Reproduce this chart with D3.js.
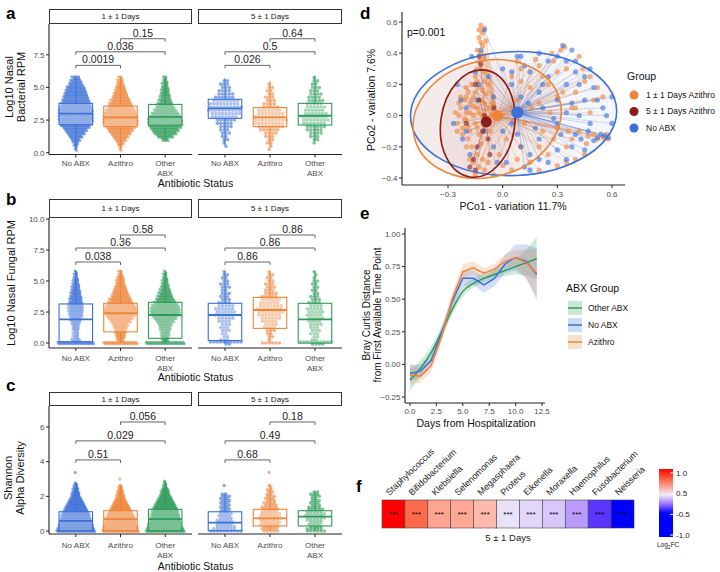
<!DOCTYPE html>
<html><head><meta charset="utf-8">
<script src="https://cdn.jsdelivr.net/npm/d3@7"></script>
<style>body{margin:0;background:#fff;} text{font-family:"Liberation Sans",Arial,Helvetica,sans-serif;}</style>
</head><body>
<script>
// ================= DATA =================
const groups = ["No ABX","Azithro","Other ABX"];
const groupTickLabels = [["No ABX"],["Azithro"],["Other","ABX"]];
const facets = ["1 ± 1 Days","5 ± 1 Days"];
const bracketPairs = [[0,1],[0,2],[1,2]];

// Panel a: Log10 nasal bacterial RPM. box = [min,q1,median,q3,max]
const bactBox = [
  [[0.3,2.15,3.0,3.78,5.9],[0.3,2.0,2.7,3.57,5.8],[1.0,2.1,2.75,3.7,5.8]],
  [[0.6,2.63,3.4,4.09,5.7],[0.4,2.0,2.7,3.45,5.5],[0.9,2.12,2.83,3.78,5.9]]
];
// swarm counts per 0.25 bin (value = index*0.25)
const bactBins = [
  [[0,2,3,5,8,12,16,20,25,28,30,30,30,30,28,26,24,22,20,18,16,12,10,7],
   [0,2,3,6,10,14,18,22,26,30,30,30,28,26,22,20,17,14,12,10,8,6,5,3],
   [0,0,0,0,6,14,20,24,28,30,30,28,24,20,16,13,11,9,8,7,6,5,4,3]],
  [[0,0,1,1,2,2,3,3,4,5,6,8,9,10,10,9,8,6,5,4,3,3,2,0],
   [0,1,1,2,2,3,4,6,8,9,10,9,8,7,5,4,3,3,2,2,2,1,0,0],
   [0,0,0,1,2,3,4,5,6,7,8,8,7,6,6,5,5,4,4,3,3,2,2,1]]
];
const bactP = [["0.0019","0.036","0.15"],["0.026","0.5","0.64"]];
const bactBracketV = [6.69,7.73,8.73];

// Panel b: Log10 nasal fungal RPM
const fungBox = [
  [[0,0.1,1.9,3.15,5.85],[0,0.9,2.4,3.2,5.85],[0,0.38,2.26,3.28,5.7]],
  [[0,0.2,2.26,3.2,5.8],[0,1.18,2.66,3.68,5.8],[0,0.0,1.9,3.2,5.8]]
];
const fungBins = [
  [[32,8,5,5,5,6,7,9,10,12,13,13,13,12,11,10,9,8,7,6,5,4,3,2],
   [30,6,8,9,10,12,14,18,22,26,28,28,26,22,19,16,14,12,10,8,7,6,4,3],
   [34,6,7,8,9,10,12,16,20,24,26,26,24,20,16,13,11,9,7,6,5,4,3,2]],
  [[12,3,2,2,3,3,3,4,5,6,6,6,5,4,3,3,3,2,3,3,2,2,2,1],
   [6,1,2,2,3,4,4,5,6,7,8,8,7,6,6,5,4,3,3,3,2,2,2,1],
   [14,2,2,3,3,3,4,4,5,5,5,5,4,4,3,3,2,2,2,2,2,1,1,1]]
];
const fungP = [["0.038","0.36","0.58"],["0.86","0.86","0.86"]];
const fungBracketV = [6.53,7.66,8.71];

// Panel c: Shannon alpha diversity
const shanBox = [
  [[0,0.02,0.58,1.11,2.75],[0,0.02,0.69,1.17,2.6],[0,0.02,0.69,1.25,2.9]],
  [[0,0.02,0.48,1.11,2.2],[0,0.29,0.73,1.25,2.7],[0,0.29,0.83,1.17,2.3]]
];
// counts per 0.125 bin
const shanBins = [
  [[34,32,30,30,28,27,26,25,24,22,20,18,16,14,12,10,8,7,6,5,4,3,2,0,0,0,0,1],
   [32,30,30,28,27,26,25,24,22,20,18,16,14,12,10,8,7,6,5,4,3,2,0,0,1],
   [34,32,30,29,28,27,26,25,24,23,22,20,18,16,14,12,10,8,7,6,4,3,2,1]],
  [[10,7,6,5,5,5,4,4,4,3,3,3,3,3,3,3,3,2,0,0,0,1],
   [5,5,5,6,6,6,7,6,6,5,5,5,4,4,3,3,3,2,2,2,1,1,0,0,0,0,0,1],
   [6,5,4,4,4,5,6,6,6,5,5,4,3,3,3,2,3,3,2]]
];
const shanP = [["0.51","0.029","0.056"],["0.68","0.49","0.18"]];
const shanBracketV = [4.1,5.2,6.29];

// Panel d: PCoA
const pcoaGroups = ["1 ± 1 Days Azithro","5 ± 1 Days Azithro","No ABX"];
const pcoaAzithro1 = [[-0.25,-0.05],[-0.24,0.0],[-0.23,0.05],[-0.22,-0.08],[-0.21,0.1],[-0.2,0.02],[-0.2,-0.03],[-0.19,0.15],[-0.18,0.07],[-0.18,-0.1],[-0.17,0.2],[-0.16,0.0],[-0.16,0.12],[-0.15,-0.05],[-0.15,0.25],[-0.14,0.05],[-0.13,0.18],[-0.13,-0.12],[-0.12,0.1],[-0.12,0.3],[-0.11,0.0],[-0.1,0.22],[-0.1,-0.07],[-0.09,0.14],[-0.08,0.05],[-0.22,-0.12],[-0.24,0.08],[-0.19,-0.15],[-0.17,-0.2],[-0.14,-0.25],[-0.16,-0.3],[-0.13,-0.33],[-0.11,-0.28],[-0.2,0.12],[-0.06,0.08],
  [-0.13,0.35],[-0.12,0.4],[-0.11,0.45],[-0.13,0.5],[-0.11,0.53],[-0.12,0.58],[-0.1,0.56],[-0.14,0.42],[-0.1,0.38],[-0.09,0.48],
  [0.05,0.25],[0.1,0.3],[0.2,0.32],[0.3,0.28],[0.32,0.42],[0.34,0.44],[0.25,0.2],[0.4,0.15],[0.45,0.22],[0.5,0.1],[0.38,0.05],[0.3,0.12],[0.15,0.18],[0.2,0.08],[0.12,-0.05],[0.22,-0.1],[0.3,-0.08],[0.42,-0.1],[0.5,-0.12],[0.55,-0.14],[0.58,-0.15],[0.46,-0.18],[0.35,-0.2],[0.25,-0.25],[0.15,-0.3],[0.3,-0.32],[0.4,-0.28],[0.05,-0.35],[-0.05,-0.38],[0.18,0.36],[0.08,0.1],[0.02,-0.15],[-0.02,-0.25],[0.1,-0.2],[0.48,0.02],[0.55,0.12],[0.28,0.35],[0.36,-0.1],[0.44,0.3],
  [-0.26,0.02],[-0.25,-0.1],[-0.23,0.12],[-0.21,-0.02],[-0.2,0.18],[-0.19,-0.07],[-0.18,0.02],[-0.17,0.1],[-0.16,0.06],[-0.15,0.15],[-0.14,-0.08],[-0.14,0.22],[-0.13,0.02],[-0.12,-0.18],[-0.11,0.16],[-0.1,0.08],[-0.09,-0.02],[-0.08,0.2],[-0.07,-0.1],[-0.06,0.0],[-0.12,0.47],[-0.11,0.36],[-0.13,0.55],[-0.14,0.3],[-0.1,0.28],[-0.2,-0.2],[-0.18,-0.28],[-0.15,-0.38],[-0.1,-0.35],[-0.08,-0.3],[0.0,-0.32],[0.08,-0.28],[0.2,-0.2],[0.28,-0.15],[0.38,-0.15],[0.47,-0.13],[0.52,-0.15],[0.57,-0.12],[0.45,-0.25],[0.35,-0.3],[0.2,-0.35],[0.1,0.22],[0.22,0.25],[0.35,0.3],[0.42,0.38],[0.48,0.25],[0.52,0.18],[0.4,0.05],[0.26,0.02],[0.16,0.05],[0.05,0.05],[0.33,0.15],[0.27,0.4],[0.08,0.35]];
const pcoaAzithro5 = [[-0.12,0.33],[-0.15,0.2],[-0.13,0.1],[-0.1,0.0],[-0.11,-0.1],[-0.14,-0.2],[-0.16,-0.28],[-0.18,-0.33],[-0.08,-0.15],[-0.05,0.05],[-0.2,-0.05],[-0.13,0.38],[-0.07,-0.25],[-0.15,-0.35]];
const pcoaNoABX = [[0.08,0.38],[0.2,0.4],[0.3,0.38],[0.4,0.35],[0.45,0.25],[0.5,0.18],[0.55,0.05],[0.48,-0.05],[0.52,-0.14],[0.56,-0.13],[0.58,-0.14],[0.5,-0.16],[0.43,-0.15],[0.38,-0.2],[0.35,0.2],[0.25,0.25],[0.15,0.28],[0.05,0.2],[0.1,0.12],[0.2,0.15],[0.3,0.1],[0.38,0.08],[0.42,0.0],[0.28,-0.02],[0.18,-0.08],[0.08,-0.12],[0.15,-0.25],[0.25,-0.3],[0.35,-0.28],[0.45,-0.22],[0.02,-0.3],[-0.05,-0.2],[-0.1,-0.1],[-0.2,0.05],[-0.22,-0.15],[-0.15,0.28],[-0.12,0.42],[-0.1,0.55],[-0.25,0.2],[-0.27,-0.05],[-0.18,-0.25],[0.0,0.3],[0.12,0.32],[0.22,0.05],[0.32,-0.12],[0.4,0.28],[0.6,0.12],[0.05,-0.05],[-0.05,0.12],[0.33,0.45],[0.12,-0.33],[-0.03,-0.3],
  [0.1,0.38],[0.25,0.35],[0.35,0.35],[0.48,0.3],[0.52,0.1],[0.45,0.1],[0.35,0.02],[0.3,-0.05],[0.2,-0.15],[0.1,-0.2],[0.22,0.2],[0.14,0.08],[0.05,0.28],[0.54,-0.12],[0.47,-0.1],[0.4,-0.12],[0.3,-0.22],[0.2,-0.28],[0.0,-0.1],[-0.08,0.25],[-0.14,0.1],[-0.2,-0.1],[-0.23,0.1],[-0.17,0.38],[-0.13,0.2],[0.42,0.2],[0.57,0.0],[0.6,-0.05],[0.38,0.42],[0.15,-0.35]];
const pcoaCentroids = [[-0.03,0.0],[-0.09,-0.04],[0.08,0.02]];
// ellipse: [cx, cy, rx, ry, angle(deg)] in data units
const pcoaEllipses = [[-0.085,-0.022,0.412,0.372,-15],[-0.137,-0.051,0.203,0.346,8],[0.06,0.013,0.566,0.397,-2]];
const pcoaXTicks = [-0.3,0.0,0.3,0.6];
const pcoaYTicks = [-0.4,-0.2,0.0,0.2,0.4,0.6];

// Panel e: Bray Curtis distance over time
const days = [0,1,2,3,4,5,6,7,8,9,10,11,12];
const abxGroups = ["Other ABX","No ABX","Azithro"];
const bcOther = [-0.12,-0.03,0.09,0.25,0.42,0.56,0.62,0.66,0.69,0.72,0.75,0.78,0.81];
const bcOtherLo = [-0.2,-0.09,0.05,0.21,0.38,0.52,0.59,0.63,0.66,0.68,0.69,0.68,0.65];
const bcOtherHi = [-0.04,0.03,0.14,0.29,0.46,0.6,0.66,0.7,0.73,0.76,0.81,0.88,0.98];
const bcNo = [-0.07,-0.05,0.03,0.24,0.48,0.66,0.66,0.61,0.66,0.77,0.82,0.79,0.69];
const bcNoLo = [-0.13,-0.1,-0.02,0.19,0.43,0.6,0.61,0.55,0.6,0.7,0.72,0.66,0.49];
const bcNoHi = [0.0,0.0,0.08,0.29,0.53,0.72,0.72,0.67,0.72,0.84,0.92,0.92,0.89];
const bcAzi = [-0.08,-0.09,-0.01,0.22,0.5,0.71,0.74,0.7,0.73,0.79,0.82,0.78,0.7];
const bcAziLo = [-0.15,-0.14,-0.06,0.17,0.45,0.66,0.69,0.66,0.69,0.74,0.75,0.66,0.52];
const bcAziHi = [0.0,-0.03,0.04,0.27,0.55,0.77,0.79,0.74,0.77,0.84,0.88,0.88,0.88];
const eXTicks = [0,2.5,5,7.5,10,12.5];
const eYTicks = [-0.25,0,0.25,0.5,0.75,1.0];

// Panel f: heatmap
const genera = ["Staphylococcus","Bifidobacterium","Klebsiella","Selenomonas","Megasphaera","Proteus","Eikenella","Moraxella","Haemophilus","Fusobacterium","Neisseria"];
const log2fc = [1.0,0.72,0.42,0.4,0.3,-0.05,-0.1,-0.17,-0.38,-0.85,-1.0];
const signif = ["***","***","***","***","***","***","***","***","***","***","***"];
const cbarLabels = ["1.0","0.5","-0.5","-1.0"];

// ================= STYLE / DRAW =================
const groupColors = ["#3c6fd7","#ee8439","#2e9c59"];
const pcoaColors = ["#ee8439","#8c1c1c","#3c6fd7"];
const abxColors = ["#2e9c59","#3c6fd7","#ee8439"];
const TICK = "#4d4d4d";

const svg = d3.select("body").append("svg").attr("width",720).attr("height",572);

function panelLabel(t,x,y){ svg.append("text").attr("x",x).attr("y",y).attr("font-size",17).attr("font-weight","bold").attr("fill","#000").text(t); }

function swarm(counts, step, dense){
  const pts=[];
  counts.forEach((n,i)=>{
    if(!n) return;
    const perRow = dense ? Math.max(1,Math.ceil(n/2)) : Math.min(n,10);
    const rows = Math.ceil(n/perRow);
    let k=0;
    for(let r=0;r<rows;r++){
      const m=Math.min(perRow,n-k);
      for(let j=0;j<m;j++){ pts.push({v:i*step, j:j-(m-1)/2, r:r-(rows-1)/2, odd:r%2, bin:i}); k++; }
    }
  });
  return pts;
}

function drawBoxPanel(cfg){
  const y = d3.scaleLinear().domain(cfg.yDomain).range(cfg.yRange);
  const facetX=[[49,192],[198,342]];
  const rowPx = Math.abs(y(cfg.step)-y(0));
  facets.forEach((fname,fi)=>{
    const [x0,x1]=facetX[fi];
    const x = d3.scalePoint().domain(groups).range([x0,x1]).padding(0.6);
    const g = svg.append("g");
    g.append("rect").attr("x",x0+0.5).attr("y",cfg.stripY[0]+0.5).attr("width",x1-x0-1).attr("height",cfg.stripY[1]-cfg.stripY[0]-1)
      .attr("fill","#fff").attr("stroke","#333").attr("stroke-width",1);
    g.append("text").attr("x",(x0+x1)/2).attr("y",(cfg.stripY[0]+cfg.stripY[1])/2).attr("dy","0.36em")
      .attr("text-anchor","middle").attr("font-size",8).attr("fill","#1a1a1a").text(fname);
    const dense = fi===0;
    const sp = dense?2.3:3.4, rad = dense?1.55:1.8;
    const subPx = dense ? Math.min(rowPx/2,1.6) : 2.2;
    groups.forEach((gn,gi)=>{
      const cx=x(gn), col=groupColors[gi];
      const pts=swarm(cfg.bins[fi][gi],cfg.step,dense);
      g.append("g").selectAll("circle").data(pts).join("circle")
        .attr("cx",d=>cx+d.j*sp+(d.odd?sp/2:0)-(dense?sp/4:(d.bin%2?0.9:-0.9)))
        .attr("cy",d=>y(d.v)+d.r*subPx)
        .attr("r",rad).attr("fill",col).attr("fill-opacity",dense?0.62:0.6);
      const b=cfg.box[fi][gi], bw=33.5;
      g.append("line").attr("x1",cx).attr("x2",cx).attr("y1",y(b[3])).attr("y2",y(b[4])).attr("stroke",col).attr("stroke-width",1);
      g.append("line").attr("x1",cx).attr("x2",cx).attr("y1",y(b[1])).attr("y2",y(b[0])).attr("stroke",col).attr("stroke-width",1);
      g.append("rect").attr("x",cx-bw/2).attr("y",y(b[3])).attr("width",bw).attr("height",Math.max(0.5,y(b[1])-y(b[3])))
        .attr("fill","#fff").attr("fill-opacity",0.3).attr("stroke",col).attr("stroke-width",1.1);
      g.append("line").attr("x1",cx-bw/2).attr("x2",cx+bw/2).attr("y1",y(b[2])).attr("y2",y(b[2])).attr("stroke",col).attr("stroke-width",1.8);
    });
    g.append("line").attr("x1",x0).attr("x2",x1).attr("y1",cfg.axisY).attr("y2",cfg.axisY).attr("stroke","#222").attr("stroke-width",1.1);
    groups.forEach((gn,gi)=>{
      g.append("line").attr("x1",x(gn)).attr("x2",x(gn)).attr("y1",cfg.axisY).attr("y2",cfg.axisY+3).attr("stroke","#222");
      groupTickLabels[gi].forEach((ln,li)=>{
        g.append("text").attr("x",x(gn)).attr("y",cfg.tickLabelY+li*9.5).attr("text-anchor","middle").attr("font-size",8).attr("fill",TICK).text(ln);
      });
    });
    bracketPairs.forEach((pr,k)=>{
      const by=y(cfg.bracketV[k]), xa=x(groups[pr[0]]), xb=x(groups[pr[1]]);
      g.append("path").attr("d",`M${xa},${by+3}V${by}H${xb}V${by+3}`).attr("fill","none").attr("stroke","#555").attr("stroke-width",0.9);
      g.append("text").attr("x",(xa+xb)/2).attr("y",by-2).attr("text-anchor","middle").attr("font-size",10.5).attr("fill","#222").text(cfg.p[fi][k]);
    });
  });
  svg.append("line").attr("x1",49).attr("x2",49).attr("y1",cfg.stripY[1]).attr("y2",cfg.axisY).attr("stroke","#222").attr("stroke-width",1.1);
  cfg.ticks.forEach(t=>{
    svg.append("line").attr("x1",46).attr("x2",49).attr("y1",y(t)).attr("y2",y(t)).attr("stroke","#222");
    svg.append("text").attr("x",44.5).attr("y",y(t)).attr("dy","0.35em").attr("text-anchor","end").attr("font-size",8).attr("fill",TICK).text(cfg.fmt(t));
  });
  cfg.title.forEach((ln,li)=>{
    svg.append("text").attr("transform",`translate(${cfg.titleX[li]},${cfg.titleY}) rotate(-90)`).attr("text-anchor","middle")
      .attr("dy","0.35em").attr("font-size",11).attr("fill","#111").text(ln);
  });
  svg.append("text").attr("x",195.5).attr("y",cfg.xTitleY).attr("text-anchor","middle").attr("font-size",10.5).attr("fill","#111").text("Antibiotic Status");
}

drawBoxPanel({stripY:[9,24],axisY:154.5,yDomain:[0,7.5],yRange:[152.7,54.8],ticks:[0,2.5,5,7.5],fmt:d3.format(".1f"),
  step:0.25,bins:bactBins,box:bactBox,p:bactP,bracketV:bactBracketV,tickLabelY:166,xTitleY:187,
  title:["Log10 Nasal","Bacterial RPM"],titleX:[9,21],titleY:87});
drawBoxPanel({stripY:[199,218],axisY:348,yDomain:[0,10],yRange:[343,219],ticks:[0,2.5,5,7.5,10],fmt:d3.format(".1f"),
  step:0.25,bins:fungBins,box:fungBox,p:fungP,bracketV:fungBracketV,tickLabelY:361,xTitleY:381,
  title:["Log10 Nasal Fungal RPM"],titleX:[11],titleY:283});
drawBoxPanel({stripY:[392,406],axisY:534,yDomain:[0,6],yRange:[531,427],ticks:[0,2,4,6],fmt:d3.format("d"),
  step:0.125,bins:shanBins,box:shanBox,p:shanP,bracketV:shanBracketV,tickLabelY:548,xTitleY:570,
  title:["Shannon","Alpha Diversity"],titleX:[8,20],titleY:478});

panelLabel("a",6,19); panelLabel("b",6,205); panelLabel("c",6,391);
panelLabel("d",360,19); panelLabel("e",360,219); panelLabel("f",356,492);

// ---------- Panel d ----------
(function(){
  const x=d3.scaleLinear().domain([-0.3,0.6]).range([448,612]);
  const y=d3.scaleLinear().domain([-0.4,0.6]).range([178,22]);
  const g=svg.append("g");
  const sets=[pcoaAzithro1,pcoaAzithro5,pcoaNoABX];
  const fills=["#f3d9cc","#e6cccc","#dfe4f3"];
  const ellPath = (e)=>{ const cx=x(e[0]), cy=y(e[1]), rx=Math.abs(x(e[2])-x(0)), ry=Math.abs(y(e[3])-y(0));
    return {cx,cy,rx,ry,a:e[4]}; };
  [2,0,1].forEach(i=>{ const e=ellPath(pcoaEllipses[i]);
    g.append("ellipse").attr("cx",0).attr("cy",0).attr("rx",e.rx).attr("ry",e.ry).attr("transform",`translate(${e.cx},${e.cy}) rotate(${e.a})`)
      .attr("fill",fills[i]).attr("fill-opacity",0.35).attr("stroke","none"); });
  [0,2,1].forEach(i=>{
    const c=pcoaCentroids[i];
    g.append("g").selectAll("line").data(sets[i]).join("line").attr("x1",d=>x(d[0])).attr("y1",d=>y(d[1])).attr("x2",x(c[0])).attr("y2",y(c[1]))
      .attr("stroke",pcoaColors[i]).attr("stroke-opacity",0.4).attr("stroke-width",0.6);
  });
  [0,2,1].forEach(i=>{
    g.append("g").selectAll("circle").data(sets[i]).join("circle").attr("cx",d=>x(d[0])).attr("cy",d=>y(d[1])).attr("r",2.6)
      .attr("fill",pcoaColors[i]).attr("fill-opacity",0.6);
  });
  [2,0,1].forEach(i=>{ const e=ellPath(pcoaEllipses[i]);
    g.append("ellipse").attr("cx",0).attr("cy",0).attr("rx",e.rx).attr("ry",e.ry).attr("transform",`translate(${e.cx},${e.cy}) rotate(${e.a})`)
      .attr("fill","none").attr("stroke",pcoaColors[i]).attr("stroke-width",1.6); });
  [0,2,1].forEach(i=>{ const c=pcoaCentroids[i];
    g.append("circle").attr("cx",x(c[0])).attr("cy",y(c[1])).attr("r",i===2?6:5.5).attr("fill",pcoaColors[i]); });
  g.append("line").attr("x1",402).attr("x2",402).attr("y1",12).attr("y2",185).attr("stroke","#222").attr("stroke-width",1.1);
  g.append("line").attr("x1",402).attr("x2",625).attr("y1",185).attr("y2",185).attr("stroke","#222").attr("stroke-width",1.1);
  pcoaYTicks.forEach(t=>{ g.append("line").attr("x1",399).attr("x2",402).attr("y1",y(t)).attr("y2",y(t)).attr("stroke","#222");
    g.append("text").attr("x",397.5).attr("y",y(t)).attr("dy","0.35em").attr("text-anchor","end").attr("font-size",8).attr("fill",TICK).text(d3.format(".1f")(t)); });
  pcoaXTicks.forEach(t=>{ g.append("line").attr("x1",x(t)).attr("x2",x(t)).attr("y1",185).attr("y2",188).attr("stroke","#222");
    g.append("text").attr("x",x(t)).attr("y",196.5).attr("text-anchor","middle").attr("font-size",8).attr("fill",TICK).text(d3.format(".1f")(t)); });
  g.append("text").attr("x",513).attr("y",210).attr("text-anchor","middle").attr("font-size",10.5).attr("fill","#111").text("PCo1 - variation 11.7%");
  g.append("text").attr("transform","translate(371,100) rotate(-90)").attr("dy","0.35em").attr("text-anchor","middle").attr("font-size",10.5).attr("fill","#111").text("PCo2 - variation 7.6%");
  g.append("text").attr("x",407).attr("y",36).attr("font-size",10.5).attr("fill","#111").text("p=0.001");
  g.append("text").attr("x",627).attr("y",80).attr("font-size",10.5).attr("fill","#111").text("Group");
  pcoaGroups.forEach((n,i)=>{ const yy=95+i*16.5;
    g.append("circle").attr("cx",634).attr("cy",yy).attr("r",4.5).attr("fill",pcoaColors[i]);
    g.append("text").attr("x",646).attr("y",yy).attr("dy","0.35em").attr("font-size",8.5).attr("fill","#111").text(n); });
})();

// ---------- Panel e ----------
(function(){
  const x=d3.scaleLinear().domain([0,12.5]).range([410,542]);
  const y=d3.scaleLinear().domain([-0.25,1.0]).range([397,234]);
  const g=svg.append("g");
  const series=[[bcOther,bcOtherLo,bcOtherHi],[bcNo,bcNoLo,bcNoHi],[bcAzi,bcAziLo,bcAziHi]];
  series.forEach((s,i)=>{
    const area=d3.area().x((d,k)=>x(days[k])).y0((d,k)=>y(s[1][k])).y1((d,k)=>y(s[2][k])).curve(i===0?d3.curveMonotoneX:d3.curveLinear);
    g.append("path").attr("d",area(s[0])).attr("fill",abxColors[i]).attr("fill-opacity",0.22);
  });
  series.forEach((s,i)=>{
    const line=d3.line().x((d,k)=>x(days[k])).y(d=>y(d)).curve(i===0?d3.curveMonotoneX:d3.curveLinear);
    g.append("path").attr("d",line(s[0])).attr("fill","none").attr("stroke",abxColors[i]).attr("stroke-width",1.5);
  });
  g.append("line").attr("x1",405).attr("x2",405).attr("y1",228).attr("y2",403).attr("stroke","#222").attr("stroke-width",1.1);
  g.append("line").attr("x1",405).attr("x2",545).attr("y1",403).attr("y2",403).attr("stroke","#222").attr("stroke-width",1.1);
  eYTicks.forEach(t=>{ g.append("line").attr("x1",402).attr("x2",405).attr("y1",y(t)).attr("y2",y(t)).attr("stroke","#222");
    g.append("text").attr("x",400.5).attr("y",y(t)).attr("dy","0.35em").attr("text-anchor","end").attr("font-size",8).attr("fill",TICK).text(d3.format(".2f")(t)); });
  eXTicks.forEach(t=>{ g.append("line").attr("x1",x(t)).attr("x2",x(t)).attr("y1",403).attr("y2",406).attr("stroke","#222");
    g.append("text").attr("x",x(t)).attr("y",414).attr("text-anchor","middle").attr("font-size",8).attr("fill",TICK).text(d3.format(".1f")(t)); });
  g.append("text").attr("x",476).attr("y",427).attr("text-anchor","middle").attr("font-size",10.5).attr("fill","#111").text("Days from Hospitalization");
  g.append("text").attr("transform","translate(366,315) rotate(-90)").attr("dy","0.35em").attr("text-anchor","middle").attr("font-size",10).attr("fill","#111").text("Bray Curtis Distance");
  g.append("text").attr("transform","translate(377,315) rotate(-90)").attr("dy","0.35em").attr("text-anchor","middle").attr("font-size",10).attr("fill","#111").text("from First Available Time Point");
  g.append("text").attr("x",566).attr("y",292).attr("font-size",10.5).attr("fill","#111").text("ABX Group");
  abxGroups.forEach((n,i)=>{ const yy=308+i*17;
    g.append("rect").attr("x",568).attr("y",yy-7).attr("width",14).attr("height",14).attr("fill",abxColors[i]).attr("fill-opacity",0.25);
    g.append("line").attr("x1",568).attr("x2",582).attr("y1",yy).attr("y2",yy).attr("stroke",abxColors[i]).attr("stroke-width",1.5);
    g.append("text").attr("x",588).attr("y",yy).attr("dy","0.35em").attr("font-size",8.5).attr("fill","#111").text(n); });
})();

// ---------- Panel f ----------
(function(){
  const x=d3.scaleBand().domain(genera).range([382,634]);
  const col=d3.scaleLinear().domain([-1,0,1]).range(["#0000ff","#efecf7","#ff0000"]).interpolate(d3.interpolateLab);
  const g=svg.append("g");
  g.selectAll("rect.c").data(genera).join("rect").attr("x",d=>x(d)).attr("y",500).attr("width",x.bandwidth()).attr("height",28)
    .attr("fill",(d,i)=>col(log2fc[i])).attr("stroke","#444").attr("stroke-width",0.6);
  g.selectAll("text.s").data(genera).join("text").attr("x",d=>x(d)+x.bandwidth()/2).attr("y",514).attr("dy","0.35em")
    .attr("text-anchor","middle").attr("font-size",8).attr("fill","#000").text((d,i)=>signif[i]);
  g.selectAll("text.l").data(genera).join("text").attr("transform",d=>`translate(${x(d)+x.bandwidth()/2-4},${496}) rotate(-44)`)
    .attr("font-size",9).attr("fill","#222").text(d=>d);
  g.append("text").attr("x",508).attr("y",541).attr("text-anchor","middle").attr("font-size",9.5).attr("fill","#222").text("5 ± 1 Days");
  const defs=svg.append("defs");
  const lg=defs.append("linearGradient").attr("id","cb").attr("x1",0).attr("y1",0).attr("x2",0).attr("y2",1);
  [[0,col(1)],[0.15,col(0.75)],[0.38,col(0)],[0.5,col(-0.5)],[0.65,col(-1)],[1,col(-1)]].forEach(s=>lg.append("stop").attr("offset",s[0]).attr("stop-color",s[1]));
  g.append("rect").attr("x",659).attr("y",469).attr("width",14).attr("height",68).attr("fill","url(#cb)");
  const cy=d3.scalePoint().domain(cbarLabels).range([473,535]);
  cbarLabels.forEach(l=>{
    g.append("line").attr("x1",670).attr("x2",673).attr("y1",cy(l)).attr("y2",cy(l)).attr("stroke","#fff");
    g.append("text").attr("x",676).attr("y",cy(l)).attr("dy","0.35em").attr("font-size",8).attr("fill","#222").text(l);
  });
  const lt=g.append("text").attr("x",657).attr("y",547).attr("font-size",6.5).attr("fill","#222");
  lt.append("tspan").text("Log");
  lt.append("tspan").attr("font-size",5).attr("dy",1.5).text("2");
  lt.append("tspan").attr("dy",-1.5).text("FC");
})();
</script>
</body></html>
